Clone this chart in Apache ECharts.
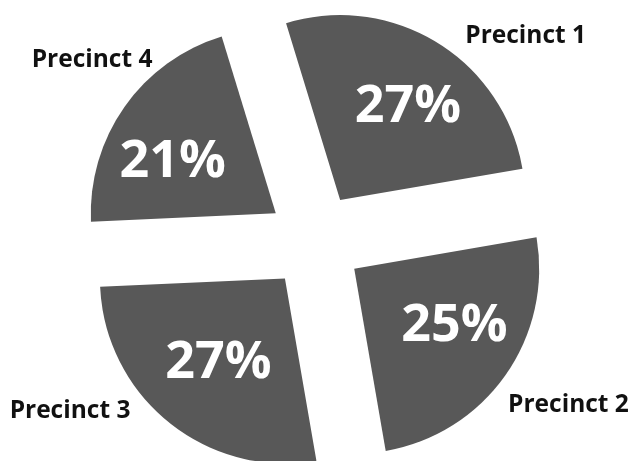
<!DOCTYPE html>
<html><head><meta charset="utf-8">
<script src="https://cdn.jsdelivr.net/npm/echarts@6/dist/echarts.min.js"></script>
<style>html,body{margin:0;padding:0;background:#fff}#c{width:630px;height:461px}</style>
</head><body><div id="c"></div>
<script>
const categories = ['Precinct 1', 'Precinct 2', 'Precinct 3', 'Precinct 4'];
const shares = [27, 25, 27, 21];

// styling: hidden leader-line lengths that place each outer category label
const outerLabelLeader = [
  { length: 56, length2: 19 },
  { length: 99, length2: -44 },
  { length: 33, length2: 43 },
  { length: 129, length2: -99 }
];
// styling: small nudges of the percentage labels inside each slice
const percentLabelNudge = [[8, 4], [7, -8], [5, -4], [-10, 15]];

const SLICE = '#585858';
const FONT = '"Open Sans", "Noto Sans", sans-serif';
const common = {
  type: 'pie',
  center: [315, 241],
  startAngle: 107,
  clockwise: true,
  avoidLabelOverlap: false,
  animation: false,
  silent: true,
  emphasis: { disabled: true },
  minAngle: 0
};

const sliceData = categories.map((name, i) => ({ name, value: shares[i], selected: true }));

const chart = echarts.init(document.getElementById('c'), null, { renderer: 'canvas' });
chart.setOption({
  backgroundColor: '#ffffff',
  series: [
    Object.assign({}, common, {
      name: 'slices',
      radius: [0, 185],
      selectedMode: 'multiple',
      selectedOffset: 48,
      itemStyle: { color: SLICE, borderWidth: 0 },
      select: { itemStyle: { color: SLICE, borderWidth: 0 } },
      label: { show: false },
      labelLine: { show: false },
      data: sliceData
    }),
    Object.assign({}, common, {
      name: 'percent',
      radius: [0, 222],
      selectedMode: 'multiple',
      selectedOffset: 48,
      itemStyle: { color: 'rgba(0,0,0,0)', borderWidth: 0 },
      select: { itemStyle: { color: 'rgba(0,0,0,0)', borderWidth: 0 } },
      label: {
        show: true, position: 'inside', formatter: '{c}%',
        color: '#ffffff', fontFamily: FONT, fontWeight: 'bold', fontSize: 52
      },
      labelLine: { show: false },
      labelLayout: function (params) {
        const n = percentLabelNudge[params.dataIndex];
        return { dx: n[0], dy: n[1] };
      },
      data: sliceData
    }),
    Object.assign({}, common, {
      name: 'names',
      radius: [0, 185],
      selectedMode: false,
      itemStyle: { color: 'rgba(0,0,0,0)', borderWidth: 0 },
      label: {
        show: true, position: 'outside', formatter: '{b}', alignTo: 'none',
        distanceToLabelLine: 5,
        color: '#111111', fontFamily: FONT, fontWeight: 'bold', fontSize: 24.5
      },
      labelLine: { show: false },
      data: categories.map((name, i) => ({
        name, value: shares[i],
        labelLine: { show: false, length: outerLabelLeader[i].length, length2: outerLabelLeader[i].length2 }
      }))
    })
  ]
});
</script></body></html>
